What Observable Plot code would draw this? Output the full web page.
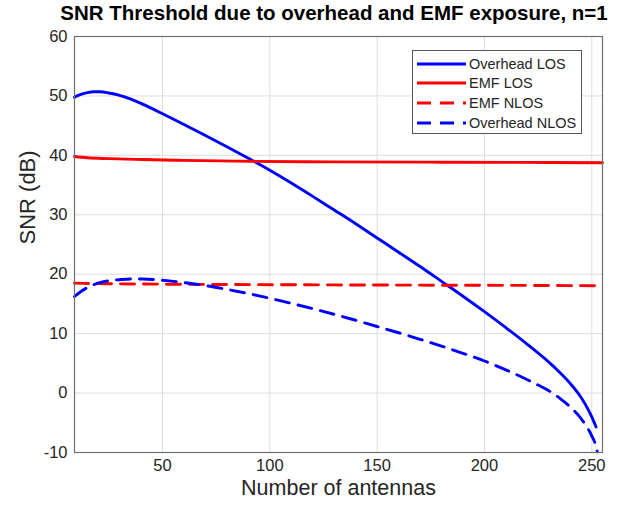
<!DOCTYPE html>
<html>
<head>
<meta charset="utf-8">
<script src="https://cdn.jsdelivr.net/npm/d3@7"></script>
<script src="https://cdn.jsdelivr.net/npm/@observablehq/plot@0.6"></script>
<style>
  html, body { margin: 0; padding: 0; background: #fff; }
  #wrap { position: relative; width: 635px; height: 506px; font-family: "Liberation Sans", Arial, sans-serif; }
  #title { height: 26px; line-height: 26px; box-sizing: border-box; width: 635px; padding-left: 33px; text-align: center; font-weight: bold; font-size: 20.5px; color: #000; white-space: nowrap; }
  #legend { position: absolute; left: 412px; top: 50px; width: 170px; height: 84px; background: #fff; border: 1px solid #555; box-sizing: border-box; }
  .item { position: absolute; left: 0; height: 18px; display: flex; align-items: center; font-size: 14.5px; color: #262626; white-space: nowrap; }
  .item svg { margin-left: 4px; margin-right: 3px; }
</style>
</head>
<body>
<div id="wrap">
  <div id="title"></div>
  <div id="chart"></div>
  <div id="legend"></div>
</div>
<script>
// ---- data ----
const titleText = "SNR Threshold due to overhead and EMF exposure, n=1";
const xLabel = "Number of antennas";
const yLabel = "SNR (dB)";
const xTicks = [50, 100, 150, 200, 250];
const yTicks = [-10, 0, 10, 20, 30, 40, 50, 60];

const nOverheadLOS = [9, 12, 15, 18, 21, 25, 30, 35, 40, 45, 50, 60, 70, 80, 90, 100, 110, 120, 130, 140, 150, 160, 170, 180, 190, 200, 210, 220, 230, 235, 240, 244, 247, 250, 252];
const snrOverheadLOS = [49.8, 50.25, 50.55, 50.7, 50.7, 50.5, 50.1, 49.5, 48.75, 47.9, 47.0, 45.2, 43.35, 41.45, 39.5, 37.5, 35.35, 33.1, 30.8, 28.5, 26.1, 23.7, 21.3, 18.8, 16.3, 13.7, 11.0, 8.2, 5.2, 3.5, 1.6, -0.2, -1.9, -4.0, -5.7];

const nEMF = [9, 15, 25, 40, 60, 90, 130, 180, 230, 255];
const snrEMFLOS = [39.8, 39.6, 39.45, 39.3, 39.15, 39.0, 38.9, 38.85, 38.8, 38.75];
const snrEMFNLOS = [18.5, 18.45, 18.4, 18.35, 18.3, 18.25, 18.2, 18.15, 18.1, 18.05];

const nOverheadNLOS = [9, 12, 15, 18, 22, 26, 31, 36, 41, 47, 52, 58, 65, 72, 80, 90, 100, 110, 120, 130, 140, 150, 160, 170, 180, 190, 200, 210, 220, 225, 230, 235, 240, 244, 247, 250, 252, 252.6];
const snrOverheadNLOS = [16.25, 17.1, 17.75, 18.25, 18.7, 18.95, 19.12, 19.2, 19.2, 19.08, 18.92, 18.68, 18.35, 17.97, 17.45, 16.75, 15.95, 15.1, 14.2, 13.25, 12.25, 11.2, 10.15, 9.05, 7.9, 6.7, 5.4, 3.9, 2.25, 1.35, 0.4, -0.85, -2.35, -3.85, -5.3, -7.2, -9.0, -9.9];

const seriesNames = ["Overhead LOS", "EMF LOS", "EMF NLOS", "Overhead NLOS"];
const seriesColors = ["#0000ff", "#ff0000", "#ff0000", "#0000ff"];
const seriesDash = [null, null, "14,9", "14,9"];

document.getElementById("title").textContent = titleText;

// ---- build tables ----
const toRows = (xs, ys) => xs.map((n, i) => ({n, v: ys[i]}));
const tables = [
  toRows(nOverheadLOS, snrOverheadLOS),
  toRows(nEMF, snrEMFLOS),
  toRows(nEMF, snrEMFNLOS),
  toRows(nOverheadNLOS, snrOverheadNLOS)
];

const lineMarks = tables.map((rows, i) => Plot.line(rows, {
  x: "n", y: "v", stroke: seriesColors[i], strokeWidth: 2.9,
  strokeDasharray: seriesDash[i] || undefined, curve: "monotone-x"
}));

const chart = Plot.plot({
  width: 635,
  height: 480,
  marginLeft: 74,
  marginRight: 33,
  marginTop: 10,
  marginBottom: 54,
  style: {fontFamily: "'Liberation Sans', Arial, sans-serif", background: "#fff", color: "#262626"},
  x: {domain: [9, 255]},
  y: {domain: [-10, 60]},
  marks: [
    Plot.gridX(xTicks, {stroke: "#dedede", strokeOpacity: 1, strokeWidth: 1}),
    Plot.gridY(yTicks, {stroke: "#dedede", strokeOpacity: 1, strokeWidth: 1}),
    Plot.axisX(xTicks, {tickSize: 0, tickPadding: 7, fontSize: 16.5, label: null, color: "#262626", tickFormat: d => String(d)}),
    Plot.axisY(yTicks, {tickSize: 0, tickPadding: 7, fontSize: 16.5, label: null, color: "#262626", tickFormat: d => String(d)}),
    ...lineMarks,
    Plot.frame({stroke: "#707070", strokeWidth: 1.2}),
    Plot.text([yLabel], {frameAnchor: "left", dx: -47, rotate: -90, fontSize: 22, fill: "#262626", text: d => d}),
    Plot.text([xLabel], {frameAnchor: "bottom", dy: 42, fontSize: 21.5, fill: "#262626", text: d => d})
  ]
});
document.getElementById("chart").appendChild(chart);

// ---- legend ----
const legend = document.getElementById("legend");
const itemTops = [3.5, 23.2, 42.8, 62.5];
seriesNames.forEach((name, i) => {
  const item = document.createElement("div");
  item.className = "item";
  item.style.top = itemTops[i] + "px";
  const dash = seriesDash[i] ? `stroke-dasharray="${seriesDash[i]}"` : "";
  item.innerHTML = `<svg width="49" height="6"><line x1="0" x2="49" y1="3" y2="3" stroke="${seriesColors[i]}" stroke-width="2.9" ${dash}/></svg><span>${name}</span>`;
  legend.appendChild(item);
});
</script>
</body>
</html>
